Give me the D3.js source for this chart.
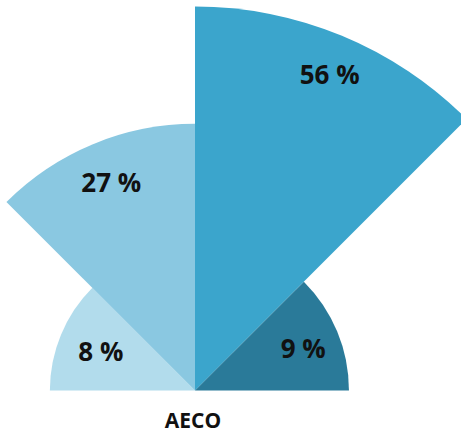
<!DOCTYPE html>
<html>
<head>
<meta charset="utf-8">
<script src="https://cdn.jsdelivr.net/npm/d3@7"></script>
<style>
  html, body { margin: 0; padding: 0; background: #fff; }
  svg { display: block; }
  text { font-family: "Open Sans", "Noto Sans", sans-serif; fill: #111; }
</style>
</head>
<body>
<svg id="chart" width="461" height="434"></svg>
<script>
// Share of each segment, left to right around the half circle
const segments = ["s1", "s2", "s3", "s4"];
const shares = [8, 27, 56, 9];
const colors = ["#b2dcec", "#8ac8e1", "#3ba5cc", "#2a7a99"];
const groupLabel = "AECO";

const width = 461, height = 434;
const cx = 195, cy = 390.5;

const svg = d3.select("#chart");
const g = svg.append("g").attr("transform", `translate(${cx},${cy})`);

// Angular position: a half circle from the left horizontal to the right one
const angle = d3.scaleBand()
  .domain(segments)
  .range([-Math.PI / 2, Math.PI / 2])
  .padding(0);

// Area-proportional radius
const radius = d3.scaleSqrt()
  .domain([0, 56])
  .range([0, 384]);

const data = segments.map((s, i) => ({ key: s, value: shares[i], color: colors[i] }));

const arc = d3.arc()
  .innerRadius(0)
  .outerRadius(d => radius(d.value))
  .startAngle(d => angle(d.key))
  .endAngle(d => angle(d.key) + angle.bandwidth());

g.selectAll("path.seg")
  .data(data)
  .join("path")
  .attr("class", "seg")
  .attr("d", arc)
  .attr("fill", d => d.color);

// Value labels sit just inside each segment's outer edge
g.selectAll("text.val")
  .data(data)
  .join("text")
  .attr("class", "val")
  .attr("text-anchor", "middle")
  .attr("dominant-baseline", "central")
  .attr("font-size", 26)
  .attr("font-weight", 700)
  .attr("transform", d => {
    const a = angle(d.key) + angle.bandwidth() / 2;
    const r = radius(d.value) - 40;
    return `translate(${r * Math.sin(a) + 3},${-r * Math.cos(a) + 1})`;
  })
  .text(d => `${d.value} %`);

svg.append("text")
  .attr("x", cx - 2)
  .attr("y", 428)
  .attr("text-anchor", "middle")
  .attr("font-size", 21)
  .attr("font-weight", 700)
  .text(groupLabel);
</script>
</body>
</html>
